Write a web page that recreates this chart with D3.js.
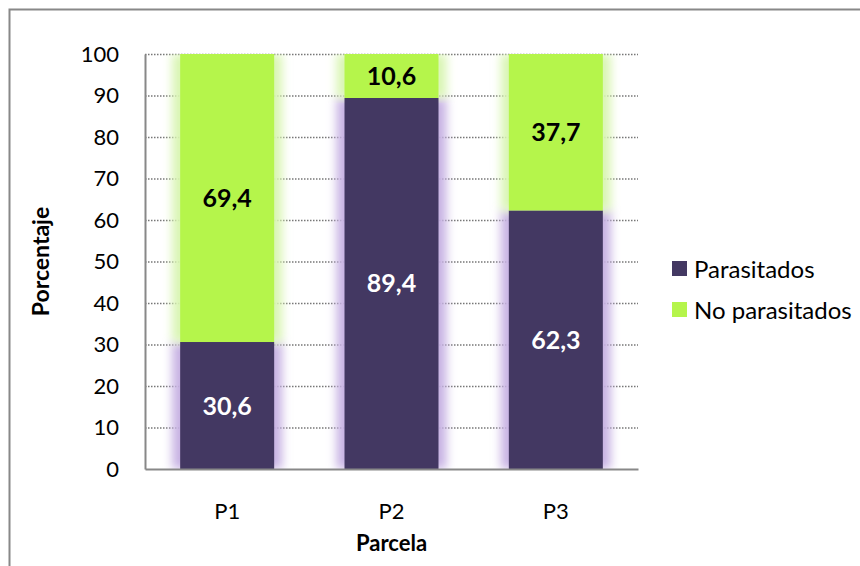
<!DOCTYPE html>
<html>
<head>
<meta charset="utf-8">
<script src="https://cdn.jsdelivr.net/npm/d3@7"></script>
<style>
  body { margin: 0; background: #fff; }
  svg text { font-family: "Lato", "Open Sans", sans-serif; }
</style>
</head>
<body>
<svg id="chart" width="860" height="566"></svg>
<script>
// chart data
const parcelas = ["P1", "P2", "P3"];
const parasitados = [30.6, 89.4, 62.3];
const noParasitados = [69.4, 10.6, 37.7];
const yTicks = [0, 10, 20, 30, 40, 50, 60, 70, 80, 90, 100];
const seriesNames = ["Parasitados", "No parasitados"];
const colors = ["#433862", "#b5f54b"];
const glowColors = ["#c7b2e3", "#d9f5b3"];

const svg = d3.select("#chart");
const margin = { top: 54, left: 145, right: 222, bottom: 97 };
const width = 860, height = 566;
const fontFam = "Lato, Open Sans, sans-serif";

// outer frame
svg.append("rect")
  .attr("x", 9.5).attr("y", 9.5)
  .attr("width", 870).attr("height", 570)
  .attr("fill", "none").attr("stroke", "#888").attr("stroke-width", 2);

const x = d3.scaleBand()
  .domain(parcelas)
  .range([margin.left, width - margin.right])
  .paddingInner(0.428).paddingOuter(0.214);

const y = d3.scaleLinear()
  .domain([0, 100])
  .range([height - margin.bottom, margin.top]);

const defs = svg.append("defs");
defs.append("filter").attr("id", "glow")
  .attr("x", "-50%").attr("y", "-10%").attr("width", "200%").attr("height", "120%")
  .append("feGaussianBlur").attr("stdDeviation", 5);
defs.append("clipPath").attr("id", "plotclip")
  .append("rect")
  .attr("x", margin.left).attr("y", margin.top)
  .attr("width", width - margin.left - margin.right)
  .attr("height", height - margin.top - margin.bottom);

// gridlines
svg.append("g")
  .selectAll("line")
  .data(yTicks.filter(d => d > 0))
  .join("line")
    .attr("x1", margin.left).attr("x2", width - margin.right)
    .attr("y1", d => y(d) + 0.5).attr("y2", d => y(d) + 0.5)
    .attr("stroke", "#777").attr("stroke-width", 1.3)
    .attr("stroke-dasharray", "1.5,1.5");

const stacked = d3.stack().keys([0, 1])(
  parcelas.map((p, i) => ({ name: p, 0: parasitados[i], 1: noParasitados[i] }))
);

// glow behind bars
const glow = svg.append("g").attr("clip-path", "url(#plotclip)");
stacked.forEach((s, k) => {
  glow.selectAll(null)
    .data(s)
    .join("rect")
      .attr("x", d => x(d.data.name) - 8)
      .attr("y", d => y(d[1]))
      .attr("width", x.bandwidth() + 16)
      .attr("height", d => y(d[0]) - y(d[1]))
      .attr("fill", glowColors[k])
      .attr("filter", "url(#glow)");
});

// bars
stacked.forEach((s, k) => {
  svg.append("g")
    .selectAll("rect")
    .data(s)
    .join("rect")
      .attr("x", d => x(d.data.name))
      .attr("y", d => y(d[1]))
      .attr("width", x.bandwidth())
      .attr("height", d => y(d[0]) - y(d[1]))
      .attr("fill", colors[k]);
});

// value labels
stacked.forEach((s, k) => {
  svg.append("g")
    .selectAll("text")
    .data(s)
    .join("text")
      .attr("x", d => x(d.data.name) + x.bandwidth() / 2)
      .attr("y", d => y((d[0] + d[1]) / 2))
      .attr("dy", "0.36em")
      .attr("text-anchor", "middle")
      .attr("font-size", 25).attr("font-weight", "bold")
      .attr("fill", k === 0 ? "#fff" : "#000")
      .text(d => d3.format(".1f")(d[1] - d[0]).replace(".", ","));
});

// axes
const yAxis = svg.append("g")
  .attr("transform", `translate(${margin.left},0)`)
  .call(d3.axisLeft(y).tickValues(yTicks).tickSize(0).tickPadding(26));
yAxis.select(".domain").attr("stroke", "#888").attr("stroke-width", 2);
yAxis.selectAll("text").attr("font-size", 22).attr("fill", "#000")
  .attr("font-family", fontFam);

const xAxis = svg.append("g")
  .attr("transform", `translate(0,${height - margin.bottom})`)
  .call(d3.axisBottom(x).tickSize(0).tickPadding(34));
xAxis.select(".domain").attr("stroke", "#888").attr("stroke-width", 2);
xAxis.selectAll("text").attr("font-size", 22).attr("fill", "#000")
  .attr("font-family", fontFam);

// axis titles
svg.append("text")
  .attr("transform", `translate(49,${(margin.top + height - margin.bottom) / 2}) rotate(-90)`)
  .attr("text-anchor", "middle")
  .attr("font-size", 23).attr("font-weight", "bold")
  .text("Porcentaje");

svg.append("text")
  .attr("x", (margin.left + width - margin.right) / 2)
  .attr("y", 551)
  .attr("text-anchor", "middle")
  .attr("font-size", 22).attr("font-weight", "bold")
  .text("Parcela");

// legend
const legend = svg.append("g").attr("transform", "translate(672,261)");
seriesNames.forEach((name, i) => {
  const g = legend.append("g").attr("transform", `translate(0,${i * 41})`);
  g.append("rect").attr("width", 15).attr("height", 15).attr("fill", colors[i]);
  g.append("text").attr("x", 22).attr("y", 8).attr("dy", "0.36em")
    .attr("font-size", 24).text(name);
});
</script>
</body>
</html>
